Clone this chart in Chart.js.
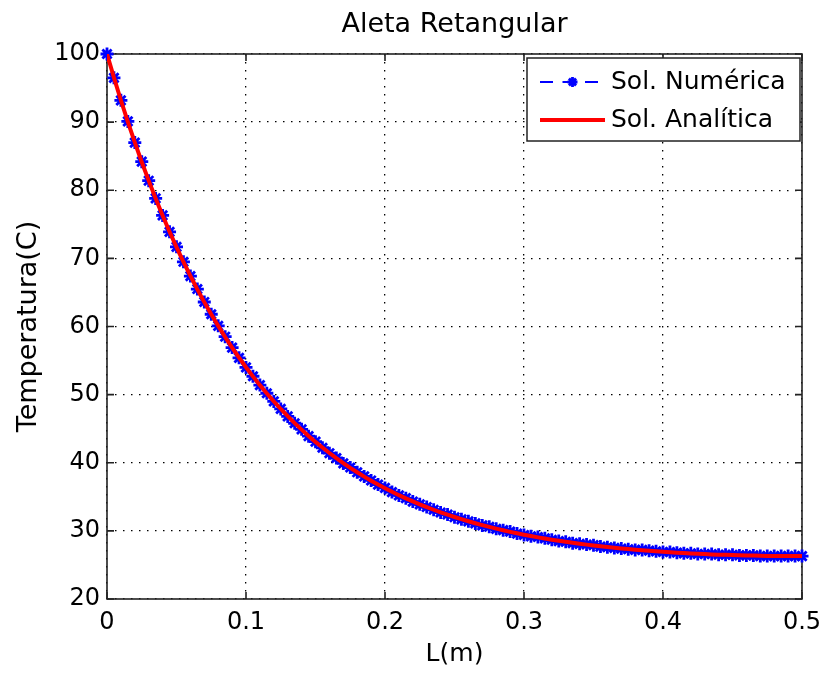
<!DOCTYPE html>
<html>
<head>
<meta charset="utf-8">
<script src="https://cdn.jsdelivr.net/npm/chart.js@4/dist/chart.umd.min.js"></script>
<style>
  html, body { margin: 0; padding: 0; background: #ffffff; }
  #c { display: block; }
</style>
</head>
<body>
<canvas id="c" width="825" height="673"></canvas>
<script>
// ---- data ----
const chartTitle = 'Aleta Retangular';
const xAxisTitle = 'L(m)';
const yAxisTitle = 'Temperatura(C)';
const seriesNames = ['Sol. Numérica', 'Sol. Analítica'];

const xTickLabels = ['0', '0.1', '0.2', '0.3', '0.4', '0.5'];
const yTickLabels = ['20', '30', '40', '50', '60', '70', '80', '90', '100'];

const positions = [
  0, 0.005, 0.01, 0.015, 0.02, 0.025, 0.03, 0.035, 0.04, 0.045,
  0.05, 0.055, 0.06, 0.065, 0.07, 0.075, 0.08, 0.085, 0.09, 0.095,
  0.1, 0.105, 0.11, 0.115, 0.12, 0.125, 0.13, 0.135, 0.14, 0.145,
  0.15, 0.155, 0.16, 0.165, 0.17, 0.175, 0.18, 0.185, 0.19, 0.195,
  0.2, 0.205, 0.21, 0.215, 0.22, 0.225, 0.23, 0.235, 0.24, 0.245,
  0.25, 0.255, 0.26, 0.265, 0.27, 0.275, 0.28, 0.285, 0.29, 0.295,
  0.3, 0.305, 0.31, 0.315, 0.32, 0.325, 0.33, 0.335, 0.34, 0.345,
  0.35, 0.355, 0.36, 0.365, 0.37, 0.375, 0.38, 0.385, 0.39, 0.395,
  0.4, 0.405, 0.41, 0.415, 0.42, 0.425, 0.43, 0.435, 0.44, 0.445,
  0.45, 0.455, 0.46, 0.465, 0.47, 0.475, 0.48, 0.485, 0.49, 0.495,
  0.5
];

const numerica = [
  100.0, 96.5, 93.2, 90.1, 87.0, 84.2, 81.4, 78.8, 76.3, 73.9,
  71.7, 69.5, 67.4, 65.5, 63.6, 61.8, 60.1, 58.5, 56.9, 55.4,
  54.0, 52.7, 51.4, 50.2, 49.0, 47.9, 46.8, 45.8, 44.9, 43.9,
  43.1, 42.2, 41.4, 40.7, 39.9, 39.3, 38.6, 38.0, 37.4, 36.8,
  36.3, 35.7, 35.2, 34.8, 34.3, 33.9, 33.5, 33.1, 32.7, 32.4,
  32.0, 31.7, 31.4, 31.1, 30.8, 30.6, 30.3, 30.1, 29.9, 29.6,
  29.4, 29.2, 29.1, 28.9, 28.7, 28.5, 28.4, 28.2, 28.1, 28.0,
  27.9, 27.7, 27.6, 27.5, 27.4, 27.3, 27.2, 27.2, 27.1, 27.0,
  26.9, 26.9, 26.8, 26.7, 26.7, 26.6, 26.6, 26.6, 26.5, 26.5,
  26.5, 26.4, 26.4, 26.4, 26.3, 26.3, 26.3, 26.3, 26.3, 26.3,
  26.3
];

const analitica = [
  100.00, 96.53, 93.21, 90.05, 87.03, 84.15, 81.41, 78.79, 76.30, 73.92,
  71.65, 69.49, 67.42, 65.46, 63.58, 61.79, 60.09, 58.46, 56.91, 55.43,
  54.02, 52.68, 51.39, 50.17, 49.00, 47.89, 46.83, 45.82, 44.86, 43.94,
  43.06, 42.23, 41.43, 40.67, 39.95, 39.25, 38.60, 37.97, 37.37, 36.80,
  36.26, 35.74, 35.24, 34.77, 34.32, 33.89, 33.49, 33.10, 32.73, 32.37,
  32.04, 31.72, 31.41, 31.12, 30.84, 30.58, 30.33, 30.09, 29.86, 29.64,
  29.44, 29.24, 29.05, 28.87, 28.71, 28.54, 28.39, 28.25, 28.11, 27.98,
  27.85, 27.74, 27.62, 27.52, 27.42, 27.33, 27.24, 27.15, 27.07, 27.00,
  26.93, 26.86, 26.80, 26.74, 26.69, 26.64, 26.60, 26.55, 26.51, 26.48,
  26.45, 26.42, 26.39, 26.37, 26.35, 26.33, 26.32, 26.31, 26.30, 26.30,
  26.30
];

// ---- styling ----
const FONT = 'DejaVu Sans';
const AXIS_COLOR = '#222222';
const BLUE = '#0000ff';
const RED = '#ff0000';

const toPoints = (xs, ys) => xs.map((x, i) => ({ x: x, y: ys[i] }));

// Box + inward ticks (MATLAB style)
const boxPlugin = {
  id: 'matlabBox',
  beforeDatasetsDraw(chart) {
    const { ctx, chartArea: a, scales } = chart;
    ctx.save();
    ctx.strokeStyle = AXIS_COLOR;
    ctx.lineWidth = 1.6;
    ctx.setLineDash([]);
    ctx.strokeRect(a.left, a.top, a.right - a.left, a.bottom - a.top);
    const tl = 7;
    ctx.beginPath();
    scales.x.ticks.forEach(t => {
      const px = scales.x.getPixelForValue(t.value);
      ctx.moveTo(px, a.bottom); ctx.lineTo(px, a.bottom - tl);
      ctx.moveTo(px, a.top); ctx.lineTo(px, a.top + tl);
    });
    scales.y.ticks.forEach(t => {
      const py = scales.y.getPixelForValue(t.value);
      ctx.moveTo(a.left, py); ctx.lineTo(a.left + tl, py);
      ctx.moveTo(a.right, py); ctx.lineTo(a.right - tl, py);
    });
    ctx.stroke();
    ctx.restore();
  }
};

// Title centred over the plot area, as MATLAB does
const titlePlugin = {
  id: 'matlabTitle',
  afterDraw(chart) {
    const { ctx, chartArea: a } = chart;
    ctx.save();
    ctx.fillStyle = '#000000';
    ctx.font = '27px "' + FONT + '"';
    ctx.textAlign = 'center';
    ctx.textBaseline = 'alphabetic';
    ctx.fillText(chartTitle, (a.left + a.right) / 2, 32);
    ctx.restore();
  }
};

// Legend inside the plot, top-right (MATLAB style)
const legendPlugin = {
  id: 'matlabLegend',
  afterDraw(chart) {
    const { ctx, chartArea: a } = chart;
    const ds = chart.data.datasets;
    const bw = 273, bh = 83;
    const bx = a.right - 2 - bw, by = a.top + 4;
    ctx.save();
    ctx.fillStyle = '#ffffff';
    ctx.fillRect(bx, by, bw, bh);
    ctx.strokeStyle = AXIS_COLOR;
    ctx.lineWidth = 1.5;
    ctx.strokeRect(bx, by, bw, bh);

    const rows = [by + 24, by + 62];
    const x0 = bx + 13, x1 = bx + 78;
    // row 1 : numerical (dashed with star marker)
    const d0 = ds[0];
    ctx.strokeStyle = d0.borderColor;
    ctx.lineWidth = d0.borderWidth;
    ctx.setLineDash([13, 9.5]);
    ctx.beginPath(); ctx.moveTo(x0, rows[0]); ctx.lineTo(x1, rows[0]); ctx.stroke();
    ctx.setLineDash([]);
    ctx.fillStyle = d0.pointBackgroundColor;
    ctx.strokeStyle = d0.pointBorderColor;
    ctx.lineWidth = d0.pointBorderWidth;
    Chart.helpers.drawPoint(ctx, { pointStyle: 'star', radius: 5, rotation: 0, borderWidth: d0.pointBorderWidth }, (x0 + x1) / 2, rows[0]);
    // row 2 : analytic (solid red)
    const d1 = ds[1];
    ctx.strokeStyle = d1.borderColor;
    ctx.lineWidth = d1.borderWidth;
    ctx.beginPath(); ctx.moveTo(x0, rows[1]); ctx.lineTo(x1, rows[1]); ctx.stroke();

    ctx.fillStyle = '#000000';
    ctx.font = '25px "' + FONT + '"';
    ctx.textAlign = 'left';
    ctx.textBaseline = 'middle';
    ctx.fillText(d0.label, x1 + 6, rows[0]);
    ctx.fillText(d1.label, x1 + 6, rows[1]);
    ctx.restore();
  }
};

const bgPlugin = {
  id: 'bg',
  beforeDraw(chart) {
    const { ctx } = chart;
    ctx.save();
    ctx.fillStyle = '#ffffff';
    ctx.fillRect(0, 0, chart.width, chart.height);
    ctx.restore();
  }
};

new Chart(document.getElementById('c'), {
  type: 'scatter',
  data: {
    datasets: [
      {
        label: seriesNames[0],
        data: toPoints(positions, numerica),
        showLine: true,
        borderColor: BLUE,
        backgroundColor: BLUE,
        borderWidth: 2,
        borderDash: [10, 6],
        pointStyle: 'star',
        pointRadius: 6.5,
        pointBorderWidth: 2.8,
        pointBorderColor: BLUE,
        pointBackgroundColor: BLUE,
        pointHoverRadius: 6.5,
        clip: false,
        order: 1
      },
      {
        label: seriesNames[1],
        data: toPoints(positions, analitica),
        showLine: true,
        borderColor: RED,
        backgroundColor: RED,
        borderWidth: 4,
        pointRadius: 0,
        pointHoverRadius: 0,
        order: 0
      }
    ]
  },
  options: {
    responsive: false,
    animation: false,
    devicePixelRatio: 1,
    layout: { padding: { left: 0, right: 23, top: 54, bottom: 0 } },
    plugins: {
      legend: { display: false },
      tooltip: { enabled: false },
      title: { display: false }
    },
    scales: {
      x: {
        type: 'linear',
        min: 0,
        max: 0.5,
        afterFit(scale) {
          scale.height = 74;
          scale.paddingLeft = 0;
          scale.paddingRight = 0;
        },
        ticks: {
          stepSize: 0.1,
          padding: 9,
          color: '#000000',
          font: { family: FONT, size: 24 },
          maxRotation: 0,
          callback: (v, i) => xTickLabels[i]
        },
        grid: { color: '#000000', lineWidth: 1.3, drawTicks: false },
        border: { display: false, dash: [1.5, 6.5] },
        title: {
          display: true,
          text: xAxisTitle,
          color: '#000000',
          font: { family: FONT, size: 25, lineHeight: 1.2 },
          padding: { top: 0, bottom: 4 }
        }
      },
      y: {
        type: 'linear',
        min: 20,
        max: 100,
        afterFit(scale) {
          scale.width = 107;
          scale.paddingTop = 0;
          scale.paddingBottom = 0;
        },
        ticks: {
          stepSize: 10,
          padding: 7,
          color: '#000000',
          font: { family: FONT, size: 24 },
          callback: (v, i) => yTickLabels[i]
        },
        grid: { color: '#000000', lineWidth: 1.3, drawTicks: false },
        border: { display: false, dash: [1.5, 6.5] },
        title: {
          display: true,
          text: yAxisTitle,
          color: '#000000',
          font: { family: FONT, size: 27, lineHeight: 1.2 },
          padding: { top: 13, bottom: 0 }
        }
      }
    }
  },
  plugins: [bgPlugin, boxPlugin, legendPlugin, titlePlugin]
});
</script>
</body>
</html>
